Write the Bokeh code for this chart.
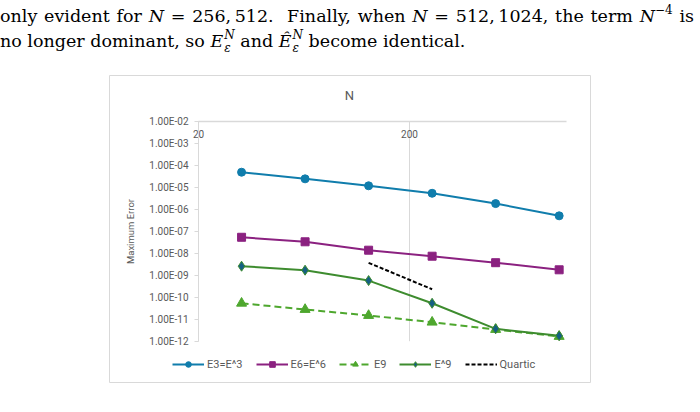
import math
from bokeh.plotting import figure
from bokeh.models import (FixedTicker, CustomJSTickFormatter, LogAxis, Legend, LegendItem,
                          Label, Div, ColumnDataSource)
from bokeh.layouts import column
from bokeh.embed import file_html
from bokeh.resources import INLINE

# ---------------- data ----------------
N = [32, 64, 128, 256, 512, 1024]
E3 = [4.8e-5, 2.4e-5, 1.16e-5, 5.3e-6, 1.8e-6, 5.0e-7]
E6 = [5.3e-8, 3.3e-8, 1.37e-8, 7.3e-9, 3.7e-9, 1.76e-9]
E9 = [5.3e-11, 2.76e-11, 1.47e-11, 7.3e-12, 3.4e-12, 1.64e-12]
E9_pow = [2.56e-9, 1.69e-9, 5.7e-10, 5.3e-11, 3.66e-12, 1.76e-12]
quartic_N = [128, 256]
quartic = [3.66e-9, 2.29e-10]

series_names = ["E3=E^3", "E6=E^6", "E9", "E^9", "Quartic"]
y_ticks = [1e-12, 1e-11, 1e-10, 1e-9, 1e-8, 1e-7, 1e-6, 1e-5, 1e-4, 1e-3, 1e-2]
y_tick_labels = ["1.00E-12", "1.00E-11", "1.00E-10", "1.00E-09", "1.00E-08", "1.00E-07",
                 "1.00E-06", "1.00E-05", "1.00E-04", "1.00E-03", "1.00E-02"]
x_ticks = [20, 200]
x_tick_labels = ["20", "200"]
x_axis_end = 1105          # right end of the plotted N axis
chart_title = "N"
y_title = "Maximum Error"

# ---------------- layout (pixels) ----------------
DIV_H = 62
CHART_L, CHART_R, CHART_T, CHART_B = 109, 590, 75, 382      # chart-area box in the window
PLOT_L, PLOT_T = 198, 120.7                                  # where x=20 / y=1e-2 sit
PX_DEC_X, PX_DEC_Y = 211.0, 22.0                             # pixels per decade

x_start = x_ticks[0] * 10 ** (-(PLOT_L - CHART_L) / PX_DEC_X)
x_end = x_ticks[0] * 10 ** ((CHART_R - PLOT_L) / PX_DEC_X)
y_end = y_ticks[-1] * 10 ** ((PLOT_T - CHART_T) / PX_DEC_Y)
y_start = y_ticks[-1] * 10 ** (-(CHART_B - PLOT_T) / PX_DEC_Y)

# ---------------- styles ----------------
C_BLUE = "#107DAC"
C_PURPLE = "#8B2180"
C_LGREEN = "#4EA72E"
C_GREEN = "#3E8C2F"
C_DBLUE = "#156082"
GRID = "#d9d9d9"
TXT = "#595959"
FONT = "Roboto"

FMT_CODE = """
let best = 0, bd = Infinity;
for (let i = 0; i < tvals.length; i++) {
  const d = Math.abs(Math.log10(tvals[i]) - Math.log10(tick));
  if (d < bd) { bd = d; best = i; }
}
return tlabels[best];
"""

# ---------------- top paragraph ----------------
SUBSUP = ('<span style="display:inline-block; font-size:12px; line-height:13px; '
          'vertical-align:-5px; margin-left:1px;"><i>N</i><br><i>&epsilon;</i></span>')
html = f"""
<div style="font-family:'DejaVu Serif'; font-size:17.5px; line-height:24.5px; color:#000; width:694px; padding-top:4px;">
<div style="text-align:justify; text-align-last:justify; white-space:nowrap;">only evident for <i>N</i> = 256,&thinsp;512. &nbsp;Finally, when <i>N</i> = 512,&thinsp;1024, the term <i>N</i><span style="font-size:12px; line-height:0; vertical-align:8px;">&minus;4</span> is</div>
<div style="white-space:nowrap; height:24.5px;">no longer dominant, so <i>E</i>{SUBSUP} and <i>&Ecirc;</i>{SUBSUP} become identical.</div>
</div>
"""
top = Div(text=html, width=700, height=DIV_H, margin=(0, 0, 0, 0))

# ---------------- chart ----------------
p = figure(width=700, height=412 - DIV_H, x_axis_type="log", y_axis_type="log",
           x_range=(x_start, x_end), y_range=(y_start, y_end),
           x_axis_location=None, output_backend="svg", toolbar_location=None,
           min_border_left=CHART_L, min_border_right=700 - CHART_R,
           min_border_top=CHART_T - DIV_H, min_border_bottom=412 - CHART_B)
p.outline_line_color = GRID
p.outline_line_width = 1
p.background_fill_color = "white"
p.border_fill_color = "white"
for g in p.grid:
    g.visible = False

# vertical grid lines at the x ticks, spanning the y tick range
p.segment(x0=x_ticks, y0=[y_ticks[0]] * len(x_ticks), x1=x_ticks, y1=[y_ticks[-1]] * len(x_ticks),
          line_color=GRID, line_width=1)

yax = p.yaxis[0]
yax.fixed_location = x_ticks[0]
yax.bounds = (y_ticks[0], y_ticks[-1])
yax.ticker = FixedTicker(ticks=y_ticks, minor_ticks=[])
yax.formatter = CustomJSTickFormatter(args=dict(tvals=y_ticks, tlabels=y_tick_labels), code=FMT_CODE)
yax.axis_line_color = GRID
yax.major_tick_line_color = GRID
yax.major_tick_in = 0
yax.major_tick_out = 4
yax.minor_tick_line_color = None
yax.major_label_standoff = 6
yax.major_label_text_font = FONT
yax.major_label_text_font_size = "10px"
yax.major_label_text_color = TXT
yax.axis_label = y_title
yax.axis_label_standoff = 10
yax.axis_label_text_font = FONT
yax.axis_label_text_font_size = "9.5px"
yax.axis_label_text_font_style = "normal"
yax.axis_label_text_color = TXT

xax = LogAxis(fixed_location=y_ticks[-1], bounds=(x_ticks[0], x_axis_end),
              ticker=FixedTicker(ticks=x_ticks, minor_ticks=[]),
              formatter=CustomJSTickFormatter(args=dict(tvals=x_ticks, tlabels=x_tick_labels), code=FMT_CODE),
              axis_line_color=GRID, axis_line_width=1.6,
              major_tick_in=0, major_tick_out=0, minor_tick_line_color=None,
              major_label_standoff=9, major_label_text_font=FONT,
              major_label_text_font_size="10px", major_label_text_color=TXT)
p.add_layout(xax, "below")

src = ColumnDataSource(dict(N=N, E3=E3, E6=E6, E9=E9, E9_pow=E9_pow))
qsrc = ColumnDataSource(dict(N=quartic_N, Q=quartic))

r3l = p.line("N", "E3", source=src, line_color=C_BLUE, line_width=2)
r3m = p.scatter("N", "E3", source=src, marker="circle", size=8, fill_color=C_BLUE, line_color=C_BLUE)
r6l = p.line("N", "E6", source=src, line_color=C_PURPLE, line_width=2)
r6m = p.scatter("N", "E6", source=src, marker="square", size=8, fill_color=C_PURPLE, line_color=C_PURPLE)
r9l = p.line("N", "E9", source=src, line_color=C_LGREEN, line_width=2, line_dash="7 4")
r9m = p.scatter("N", "E9", source=src, marker="triangle", size=10, fill_color=C_LGREEN, line_color=C_LGREEN)
rpl = p.line("N", "E9_pow", source=src, line_color=C_GREEN, line_width=2)
rpm = p.scatter("N", "E9_pow", source=src, marker="diamond", size=10, fill_color=C_DBLUE,
                line_color=C_GREEN, line_width=1)
rq = p.line("N", "Q", source=qsrc, line_color="black", line_width=2, line_dash="4 2")

legend = Legend(items=[LegendItem(label=series_names[0], renderers=[r3l, r3m]),
                       LegendItem(label=series_names[1], renderers=[r6l, r6m]),
                       LegendItem(label=series_names[2], renderers=[r9l, r9m]),
                       LegendItem(label=series_names[3], renderers=[rpl, rpm]),
                       LegendItem(label=series_names[4], renderers=[rq])],
                orientation="horizontal", location=(172 - CHART_L, CHART_B - 371),
                glyph_width=32, glyph_height=14, label_standoff=3, spacing=13,
                padding=0, margin=0, border_line_color=None, background_fill_alpha=0,
                label_text_font=FONT, label_text_font_size="11px", label_text_color=TXT,
                label_width=10, label_height=14)
p.add_layout(legend)

p.add_layout(Label(x=349 - CHART_L, y=CHART_B - 95, x_units="screen", y_units="screen",
                   text=chart_title, text_align="center", text_baseline="middle",
                   text_font=FONT, text_font_size="13px", text_color=TXT))

layout = column(top, p, spacing=0)
open("out.html", "w").write(file_html(layout, INLINE))
